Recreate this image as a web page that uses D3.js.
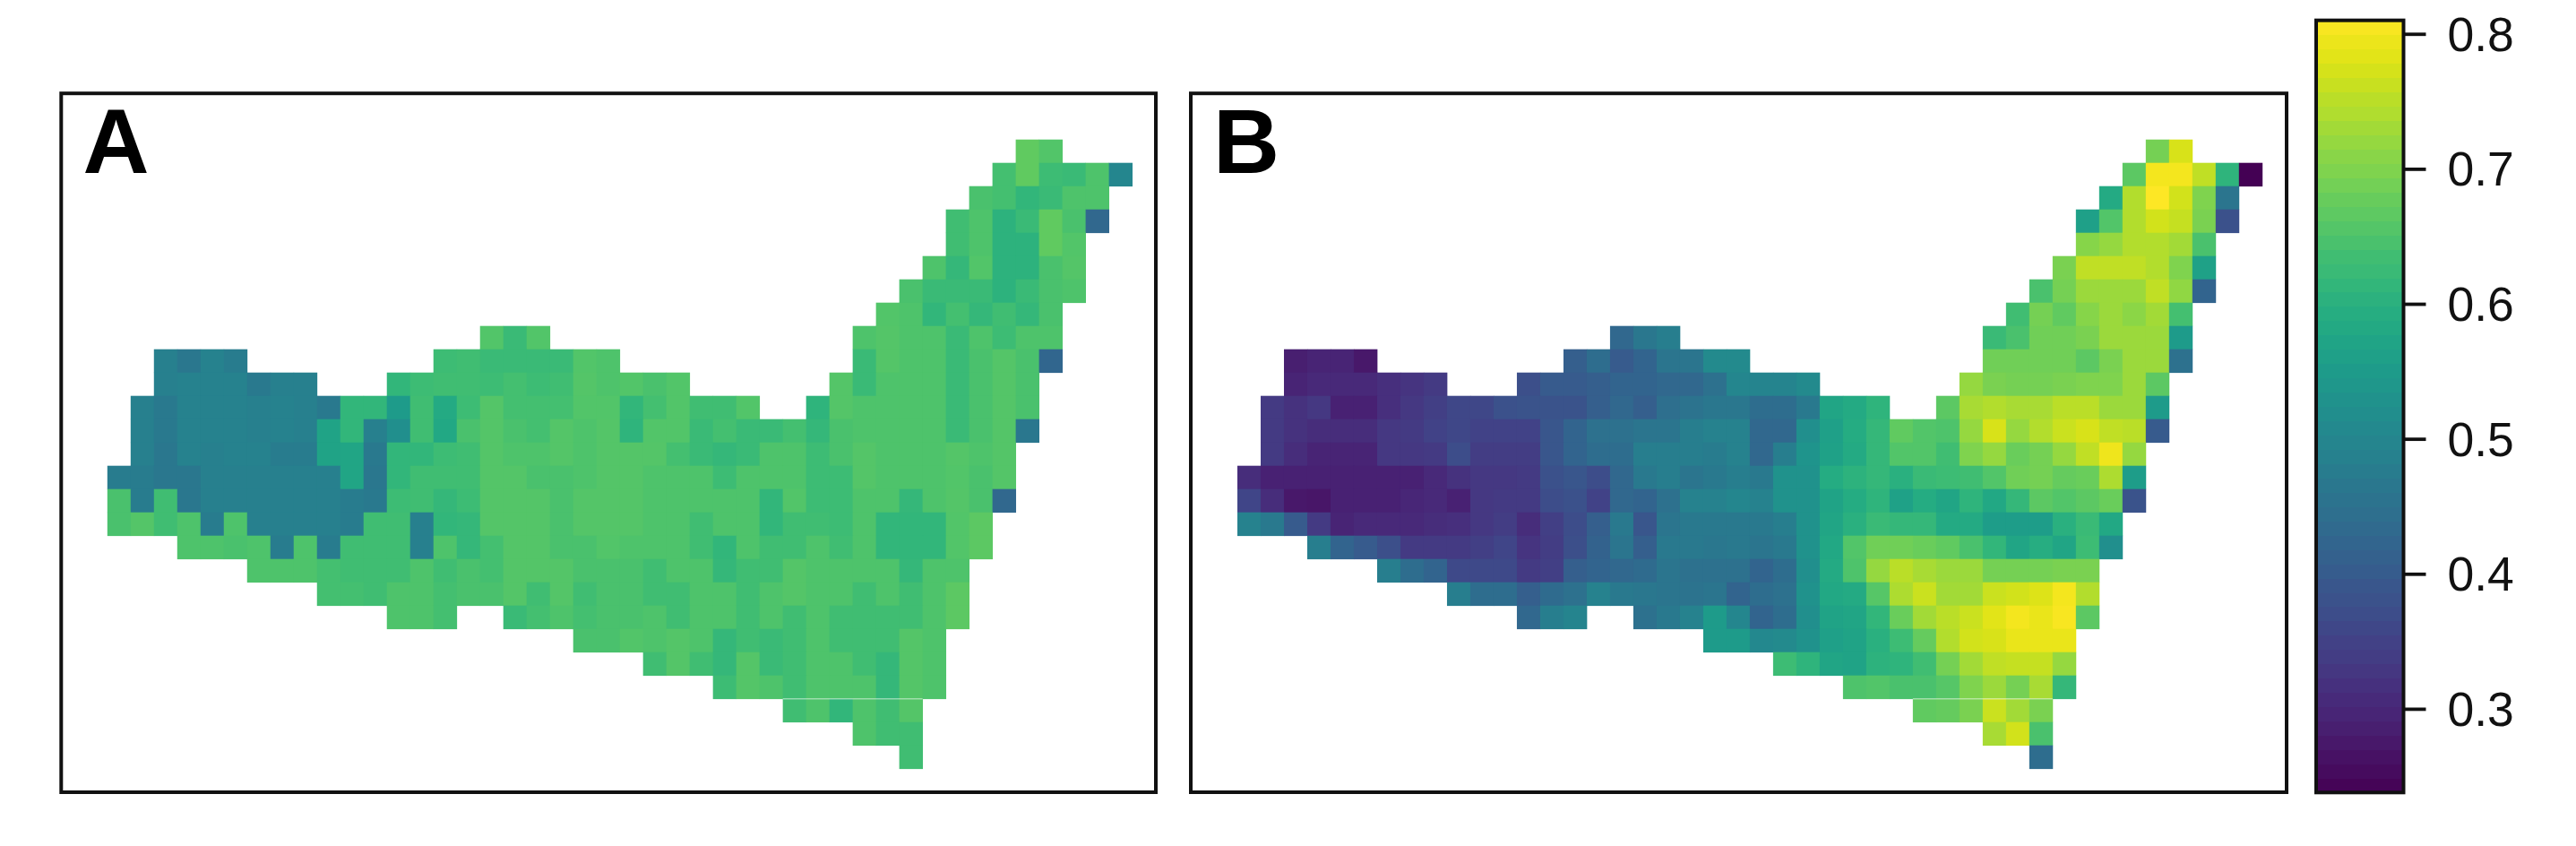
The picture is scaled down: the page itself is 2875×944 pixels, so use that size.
<!DOCTYPE html>
<html>
<head>
<meta charset="utf-8">
<script src="https://cdn.jsdelivr.net/npm/d3@7"></script>
<style>
html,body{margin:0;padding:0;background:#fff;}
svg{display:block;}
text{font-family:"Liberation Sans",Arial,sans-serif;}
</style>
</head>
<body>
<svg id="chart" width="2875" height="944"></svg>
<script>
// Column spans (inclusive) of the grid occupied in each row, top to bottom
const rowSpans = [
 [[39,40]],[[38,43]],[[37,42]],[[36,42]],[[36,41]],[[35,41]],[[34,41]],[[33,40]],
 [[16,18],[32,40]],
 [[2,5],[14,21],[32,40]],
 [[2,8],[12,24],[31,39]],
 [[1,27],[30,39]],
 [[1,39]],[[1,38]],[[0,38]],[[0,38]],[[0,37]],[[3,37]],[[6,36]],[[9,36]],
 [[12,14],[17,36]],
 [[20,35]],[[23,35]],[[26,35]],[[29,34]],[[32,34]],[[34,34]]
];

const valuesA = [
 [.67,.655],
 [.64,.67,.63,.625,.65,.50],
 [.645,.64,.615,.625,.65,.65],
 [.635,.65,.605,.625,.67,.645,.43],
 [.635,.65,.605,.605,.67,.655],
 [.65,.62,.655,.605,.605,.645,.657],
 [.645,.625,.625,.625,.605,.625,.645,.65],
 [.655,.65,.615,.64,.62,.635,.62,.645],
 [.655,.625,.655, .65,.657,.65,.65,.625,.65,.63,.65,.65],
 [.485,.465,.49,.475, .63,.635,.625,.625,.625,.625,.655,.65, .625,.657,.65,.65,.625,.645,.657,.645,.425],
 [.485,.49,.49,.49,.47,.485,.485, .615,.63,.635,.635,.63,.64,.63,.635,.657,.65,.655,.645,.655, .657,.625,.65,.65,.65,.625,.645,.657,.645],
 [.485,.47,.49,.49,.49,.485,.49,.485,.47,.615,.615,.55,.635,.585,.63,.657,.64,.64,.64,.655,.655,.615,.64,.655,.635,.635,.655, .61,.657,.65,.65,.65,.65,.625,.645,.657,.645],
 [.485,.47,.49,.49,.49,.485,.49,.485,.57,.615,.485,.52,.635,.58,.645,.657,.645,.64,.657,.65,.657,.61,.655,.655,.625,.64,.625,.625,.64,.62,.645,.65,.65,.65,.65,.625,.645,.657,.465],
 [.485,.465,.49,.485,.49,.49,.475,.475,.57,.575,.47,.615,.615,.63,.635,.657,.65,.65,.657,.65,.657,.657,.657,.64,.625,.62,.625,.65,.65,.63,.645,.657,.65,.65,.65,.657,.65,.657],
 [.475,.475,.465,.465,.485,.485,.485,.485,.485,.485,.575,.465,.615,.635,.635,.635,.657,.657,.645,.645,.65,.657,.657,.65,.65,.65,.63,.65,.65,.65,.63,.63,.657,.65,.65,.65,.655,.645,.657],
 [.645,.475,.635,.465,.485,.485,.485,.485,.485,.485,.475,.47,.63,.635,.62,.63,.657,.657,.657,.645,.657,.657,.657,.65,.65,.65,.65,.65,.615,.655,.63,.63,.65,.65,.62,.65,.657,.645,.43],
 [.645,.657,.635,.65,.475,.65,.485,.485,.485,.485,.475,.635,.635,.485,.615,.62,.657,.657,.657,.645,.657,.657,.657,.65,.65,.635,.65,.65,.615,.635,.635,.63,.65,.615,.615,.615,.655,.665],
 [.65,.65,.645,.65,.475,.65,.475,.635,.635,.635,.485,.65,.62,.64,.657,.657,.645,.645,.655,.65,.65,.65,.635,.615,.65,.635,.635,.65,.635,.65,.615,.615,.615,.655,.665],
 [.65,.65,.65,.64,.635,.635,.635,.65,.635,.645,.64,.657,.657,.657,.645,.645,.645,.635,.65,.65,.62,.635,.635,.657,.65,.65,.65,.65,.62,.65,.65],
 [.64,.64,.635,.65,.65,.64,.645,.645,.657,.635,.657,.635,.645,.645,.635,.635,.65,.65,.635,.65,.657,.65,.65,.635,.65,.635,.65,.665],
 [.65,.65,.64, .625,.64,.65,.64,.645,.645,.65,.635,.65,.65,.635,.65,.635,.65,.635,.635,.635,.635,.65,.665],
 [.645,.645,.655,.65,.657,.65,.62,.635,.625,.635,.65,.635,.635,.635,.657,.65],
 [.635,.657,.635,.62,.657,.625,.635,.65,.65,.635,.62,.657,.65],
 [.63,.657,.65,.635,.65,.65,.65,.62,.657,.65],
 [.635,.65,.615,.65,.635,.657],
 [.65,.635,.635],
 [.635]
];

const valuesB = [
 [.69,.775],
 [.665,.80,.80,.755,.61,.238],
 [.585,.745,.81,.77,.70,.46],
 [.56,.655,.745,.77,.76,.695,.38],
 [.705,.72,.745,.745,.73,.645],
 [.695,.755,.755,.755,.745,.70,.565],
 [.645,.69,.725,.725,.725,.755,.715,.42],
 [.635,.69,.67,.705,.725,.71,.73,.64],
 [.43,.465,.48, .625,.645,.685,.685,.695,.725,.725,.725,.55],
 [.285,.295,.295,.275, .41,.44,.40,.42,.46,.46,.51,.51, .685,.685,.685,.685,.665,.695,.725,.725,.45],
 [.295,.305,.305,.305,.315,.325,.335, .375,.40,.40,.41,.42,.42,.43,.43,.45,.50,.495,.495,.51, .72,.695,.69,.69,.695,.70,.70,.725,.665],
 [.335,.32,.33,.29,.29,.315,.33,.345,.36,.36,.38,.385,.385,.385,.41,.43,.41,.445,.455,.465,.465,.44,.44,.47,.575,.585,.61, .665,.735,.745,.735,.735,.75,.75,.725,.725,.55],
 [.335,.32,.31,.31,.31,.33,.335,.35,.36,.35,.35,.35,.39,.42,.45,.45,.46,.46,.48,.49,.49,.43,.43,.52,.56,.59,.62,.67,.655,.65,.72,.775,.72,.745,.765,.775,.755,.75,.40],
 [.335,.31,.295,.295,.295,.33,.33,.335,.37,.34,.34,.34,.39,.42,.44,.44,.48,.48,.48,.475,.49,.43,.48,.535,.565,.585,.62,.655,.655,.635,.70,.72,.68,.69,.72,.755,.795,.72],
 [.31,.29,.29,.29,.29,.29,.29,.29,.305,.32,.33,.33,.335,.38,.39,.37,.43,.47,.48,.46,.47,.48,.47,.53,.53,.59,.605,.62,.60,.625,.63,.635,.655,.685,.69,.675,.68,.74,.555],
 [.355,.31,.275,.27,.29,.29,.29,.30,.305,.29,.33,.335,.335,.37,.38,.35,.43,.42,.45,.49,.49,.50,.49,.53,.53,.57,.59,.61,.565,.59,.575,.61,.58,.62,.665,.655,.665,.68,.385],
 [.49,.47,.40,.335,.295,.305,.305,.305,.31,.315,.33,.34,.31,.345,.37,.41,.47,.39,.46,.47,.47,.47,.47,.48,.53,.575,.60,.625,.62,.62,.585,.585,.555,.555,.555,.60,.625,.58],
 [.48,.42,.40,.375,.335,.335,.335,.345,.355,.325,.34,.375,.415,.46,.41,.47,.47,.465,.47,.46,.47,.53,.58,.655,.685,.685,.68,.67,.645,.615,.575,.595,.575,.63,.52],
 [.48,.44,.42,.365,.365,.365,.335,.345,.41,.42,.43,.435,.46,.45,.45,.45,.42,.44,.52,.585,.65,.72,.75,.735,.725,.725,.69,.69,.69,.695,.695],
 [.48,.44,.44,.41,.435,.45,.49,.47,.465,.46,.455,.46,.42,.44,.45,.53,.58,.585,.66,.74,.765,.73,.73,.765,.77,.78,.80,.745],
 [.43,.48,.495, .45,.47,.49,.55,.50,.42,.44,.52,.57,.575,.615,.68,.73,.75,.765,.785,.80,.79,.805,.665],
 [.55,.55,.505,.51,.53,.56,.57,.60,.63,.675,.745,.77,.775,.79,.79,.79],
 [.63,.61,.575,.57,.605,.61,.635,.69,.73,.755,.76,.76,.72],
 [.65,.655,.645,.645,.66,.70,.725,.69,.735,.62],
 [.67,.675,.695,.765,.73,.695],
 [.735,.77,.645],
 [.44]
];

const panelLabels = ["A","B"];
const legendTicks = [0.3,0.4,0.5,0.6,0.7,0.8];
const colourDomain = [0.238,0.81];
const legendBinCount = 54;

const svg = d3.select("#chart");
const colour = d3.scaleSequential(d3.interpolateViridis).domain(colourDomain);

const nCols = 44, nRows = 27;
const panels = [
  {label:panelLabels[0], values:valuesA, frame:[68.3,1290], grid:[119.8,1263.6], labelX:92.5},
  {label:panelLabels[1], values:valuesB, frame:[1329,2552], grid:[1381,2524.8], labelX:1354}
];
const frameY = [104.2,884];
const y = d3.scaleBand().domain(d3.range(nRows)).range([155.7,857.7]);

panels.forEach(p=>{
  const x = d3.scaleBand().domain(d3.range(nCols)).range(p.grid);
  const cells = [];
  rowSpans.forEach((spans,r)=>{
    let i = 0;
    spans.forEach(([a,b])=>{
      for(let c=a;c<=b;c++){ cells.push({r,c,v:p.values[r][i++]}); }
    });
  });
  const g = svg.append("g");
  g.selectAll("rect").data(cells).join("rect")
    .attr("x",d=>x(d.c)).attr("y",d=>y(d.r))
    .attr("width",x.bandwidth()+0.4).attr("height",y.bandwidth()+0.4)
    .attr("fill",d=>colour(d.v));
  g.append("line")
    .attr("x1",x(29)).attr("x2",x(35))
    .attr("y1",y(24)).attr("y2",y(24))
    .attr("stroke","#fff").attr("stroke-opacity",0.45).attr("stroke-width",1.5);
  svg.append("rect")
    .attr("x",p.frame[0]).attr("y",frameY[0])
    .attr("width",p.frame[1]-p.frame[0]).attr("height",frameY[1]-frameY[0])
    .attr("fill","none").attr("stroke","#111").attr("stroke-width",4);
  svg.append("text").text(p.label)
    .attr("x",p.labelX).attr("y",192.7)
    .attr("font-size",102.5).attr("font-weight","bold").attr("fill","#000");
});

// Colour bar
const barX = [2585,2682.5], barY = [884.3,22.7];
const legendY = d3.scaleLinear().domain(colourDomain).range(barY);
const binEdges = d3.range(legendBinCount+1).map(i=>colourDomain[0]+(colourDomain[1]-colourDomain[0])*i/legendBinCount);
svg.append("g").attr("shape-rendering","crispEdges").selectAll("rect").data(d3.pairs(binEdges)).join("rect")
  .attr("x",barX[0]).attr("width",barX[1]-barX[0])
  .attr("y",d=>legendY(d[1])).attr("height",d=>legendY(d[0])-legendY(d[1])+0.6)
  .attr("fill",d=>colour((d[0]+d[1])/2));
svg.append("rect")
  .attr("x",barX[0]).attr("y",barY[1])
  .attr("width",barX[1]-barX[0]).attr("height",barY[0]-barY[1])
  .attr("fill","none").attr("stroke","#111").attr("stroke-width",4);
const axis = d3.axisRight(legendY).tickValues(legendTicks).tickSize(25).tickPadding(24).tickFormat(d3.format(".1f"));
const ag = svg.append("g").attr("transform",`translate(${barX[1]},0)`).call(axis);
ag.select(".domain").remove();
ag.selectAll(".tick line").attr("stroke","#111").attr("stroke-width",3.8);
ag.selectAll(".tick text").attr("font-size",53.5).attr("fill","#111").attr("dy","0.345em")
  .attr("font-family",'"Liberation Sans",Arial,sans-serif');
</script>
</body>
</html>
